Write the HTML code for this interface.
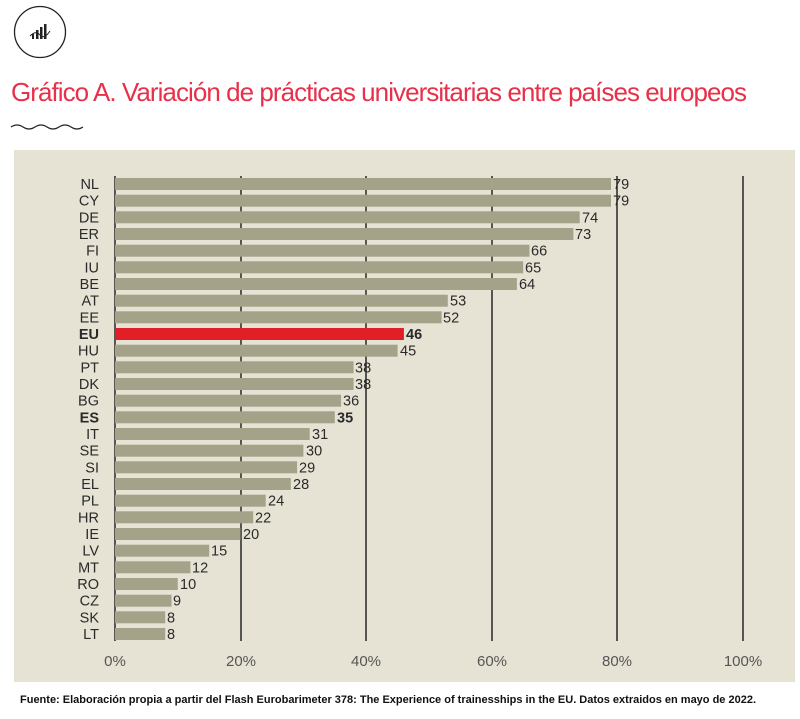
<!DOCTYPE html>
<html><head><meta charset="utf-8"><style>
body{margin:0;background:#fff;width:800px;height:714px;overflow:hidden;font-family:"Liberation Sans",sans-serif}
svg text{font-family:"Liberation Sans",sans-serif}
</style></head><body>
<svg width="800" height="714" viewBox="0 0 800 714" xmlns="http://www.w3.org/2000/svg">
<circle cx="40" cy="32" r="25.5" fill="none" stroke="#222" stroke-width="1.3"/>
<g fill="#222"><rect x="36" y="30" width="2.5" height="9"/><rect x="40" y="27" width="2.5" height="12"/><rect x="44" y="24" width="2.5" height="15"/><rect x="32" y="34" width="2" height="5"/></g>
<path d="M30 36 Q36 30 40 35 T50 31" fill="none" stroke="#222" stroke-width="1"/>
<text x="11" y="101" font-size="26" fill="#e8304a" letter-spacing="-0.95">Gráfico A. Variación de prácticas universitarias entre países europeos</text>
<path d="M11 127 q6 -4 12 0 t12 0 t12 0 t12 0 t12 0 t12 0" fill="none" stroke="#222" stroke-width="1.3"/>
<rect x="14" y="150" width="781" height="532" fill="#e6e3d4"/>
<g stroke="#1a1a1a" stroke-width="1.4">
<line x1="115" y1="176" x2="115" y2="641"/><line x1="241" y1="176" x2="241" y2="641"/><line x1="366" y1="176" x2="366" y2="641"/><line x1="492" y1="176" x2="492" y2="641"/><line x1="617" y1="176" x2="617" y2="641"/><line x1="743" y1="176" x2="743" y2="641"/>
</g>
<g font-size="14.5" fill="#2a2a2a">
<g fill="#a4a389">
<rect x="115" y="178" width="496" height="12"/><rect x="115" y="194.7" width="496" height="12"/><rect x="115" y="211.3" width="464.7" height="12"/><rect x="115" y="228" width="458.4" height="12"/><rect x="115" y="244.7" width="414.5" height="12"/><rect x="115" y="261.3" width="408.2" height="12"/><rect x="115" y="278" width="401.9" height="12"/><rect x="115" y="294.7" width="332.8" height="12"/><rect x="115" y="311.3" width="326.6" height="12"/>
<rect x="115" y="344.7" width="282.6" height="12"/><rect x="115" y="361.3" width="238.6" height="12"/><rect x="115" y="378" width="238.6" height="12"/><rect x="115" y="394.7" width="226.1" height="12"/><rect x="115" y="411.3" width="219.8" height="12"/><rect x="115" y="428" width="194.7" height="12"/><rect x="115" y="444.7" width="188.4" height="12"/><rect x="115" y="461.3" width="182.1" height="12"/><rect x="115" y="478" width="175.8" height="12"/><rect x="115" y="494.7" width="150.7" height="12"/><rect x="115" y="511.3" width="138.2" height="12"/><rect x="115" y="528" width="125.6" height="12"/><rect x="115" y="544.7" width="94.2" height="12"/><rect x="115" y="561.3" width="75.4" height="12"/><rect x="115" y="578" width="62.8" height="12"/><rect x="115" y="594.7" width="56.5" height="12"/><rect x="115" y="611.3" width="50.2" height="12"/><rect x="115" y="628" width="50.2" height="12"/>
</g>
<rect x="115" y="328" width="288.9" height="12" fill="#e01f26"/>
<g text-anchor="end">
<text x="99" y="189">NL</text><text x="99" y="205.7">CY</text><text x="99" y="222.3">DE</text><text x="99" y="239">ER</text><text x="99" y="255.7">FI</text><text x="99" y="272.3">IU</text><text x="99" y="289">BE</text><text x="99" y="305.7">AT</text><text x="99" y="322.3">EE</text><text x="99" y="339" font-weight="bold">EU</text><text x="99" y="355.7">HU</text><text x="99" y="372.3">PT</text><text x="99" y="389">DK</text><text x="99" y="405.7">BG</text><text x="99" y="422.3" font-weight="bold">ES</text><text x="99" y="439">IT</text><text x="99" y="455.7">SE</text><text x="99" y="472.3">SI</text><text x="99" y="489">EL</text><text x="99" y="505.7">PL</text><text x="99" y="522.3">HR</text><text x="99" y="539">IE</text><text x="99" y="555.7">LV</text><text x="99" y="572.3">MT</text><text x="99" y="589">RO</text><text x="99" y="605.7">CZ</text><text x="99" y="622.3">SK</text><text x="99" y="639">LT</text>
</g>
<text x="613" y="189">79</text><text x="613" y="205.7">79</text><text x="582" y="222.3">74</text><text x="575" y="239">73</text><text x="531" y="255.7">66</text><text x="525" y="272.3">65</text><text x="519" y="289">64</text><text x="450" y="305.7">53</text><text x="443" y="322.3">52</text><text x="406" y="339" font-weight="bold">46</text><text x="400" y="355.7">45</text><text x="355" y="372.3">38</text><text x="355" y="389">38</text><text x="343" y="405.7">36</text><text x="337" y="422.3" font-weight="bold">35</text><text x="312" y="439">31</text><text x="306" y="455.7">30</text><text x="299" y="472.3">29</text><text x="293" y="489">28</text><text x="268" y="505.7">24</text><text x="255" y="522.3">22</text><text x="243" y="539">20</text><text x="211" y="555.7">15</text><text x="192" y="572.3">12</text><text x="180" y="589">10</text><text x="173" y="605.7">9</text><text x="167" y="622.3">8</text><text x="167" y="639">8</text>
</g>
<g font-size="15" fill="#555" text-anchor="middle">
<text x="115" y="666">0%</text><text x="241" y="666">20%</text><text x="366" y="666">40%</text><text x="492" y="666">60%</text><text x="617" y="666">80%</text><text x="743" y="666">100%</text>
</g>
<text x="20" y="703" font-size="11" font-weight="bold" fill="#111" letter-spacing="0">Fuente: Elaboración propia a partir del Flash Eurobarimeter 378: The Experience of trainesships in the EU. Datos extraidos en mayo de 2022.</text>
</svg>
</body></html>
